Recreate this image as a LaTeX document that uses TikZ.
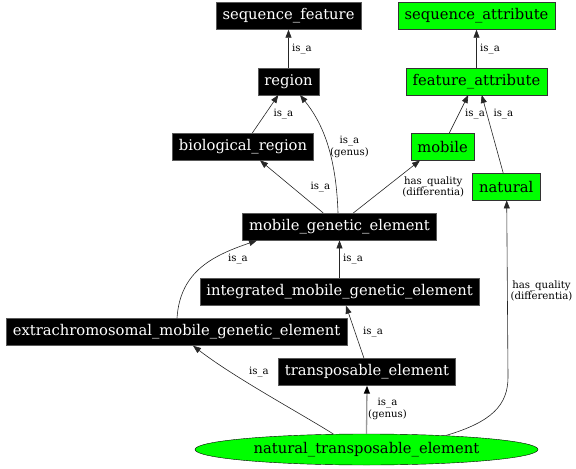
\documentclass[tikz,border=0pt]{standalone}
\usepackage{fontspec}
\setmainfont{DejaVu Serif}
\usepackage{xcolor}
\usetikzlibrary{arrows.meta,shapes.geometric}
\definecolor{nodegreen}{RGB}{0,255,0}

\begin{document}
\begin{tikzpicture}[x=1bp,y=-1bp,>={Triangle[length=8bp,width=6bp]},
    term/.style={draw=black!65,fill=black,text=white,inner xsep=6.5bp,inner ysep=0bp,
        minimum height=27bp,font=\fontsize{14.8}{17}\selectfont},
    attr/.style={term,fill=nodegreen,draw=black!80,text=black},
    lbl/.style={font=\fontsize{10.2}{11.5}\selectfont,align=center,inner sep=0pt},
    rel/.style={->,draw=black!85,line width=0.6bp}]
        \useasboundingbox (0,0) rectangle (576,469);
        \node[term] (seqfeat) at (288.5,16) {sequence\_feature};
        \node[attr] (seqattr) at (476.5,16) {sequence\_attribute};
        \node[term] (region) at (288.5,81.3) {region};
        \node[attr] (featattr) at (476.5,81.3) {feature\_attribute};
        \node[term] (bioreg) at (243,146.7) {biological\_region};
        \node[attr] (mobile) at (442.5,146.7) {mobile};
        \node[attr] (natural) at (506.2,186.7) {natural};
        \node[term] (mge) at (339.5,226.7) {mobile\_genetic\_element};
        \node[term] (imge) at (339.5,292) {integrated\_mobile\_genetic\_element};
        \node[term] (emge) at (176.5,332) {extrachromosomal\_mobile\_genetic\_element};
        \node[term] (te) at (367,372) {transposable\_element};
        \node[attr,ellipse,draw=black,minimum width=343bp,minimum height=31bp,inner sep=0pt]
            (nte) at (366.5,449.5) {natural\_transposable\_element};
        \node[lbl] (l1) at (302,49) {is\_a};
        \node[lbl] (l2) at (490,49) {is\_a};
        \node[lbl] (l3) at (283.3,114) {is\_a};
        \node[lbl] (l4) at (349.5,146.7) {is\_a\\(genus)};
        \node[lbl] (l5) at (320.3,186.7) {is\_a};
        \node[lbl] (l6) at (433.3,186.7) {has\_quality\\(differentia)};
        \node[lbl] (l7) at (475,114) {is\_a};
        \node[lbl] (l8) at (503.3,114) {is\_a};
        \node[lbl] (l9) at (541.5,291) {has\_quality\\(differentia)};
        \node[lbl] (l10) at (353,259) {is\_a};
        \node[lbl] (l11) at (238,259) {is\_a};
        \node[lbl] (l12) at (373,332) {is\_a};
        \node[lbl] (l13) at (387.5,409) {is\_a\\(genus)};
        \node[lbl] (l14) at (259,372) {is\_a};
        \draw[rel] (region.north) -- (seqfeat.south);
        \draw[rel] (featattr.north) -- (seqattr.south);
        \draw[rel] ([xshift=9.3bp]bioreg.north) -- ([xshift=-10.2bp]region.south);
        \draw[rel] ([xshift=-1.5bp]mge.north) .. controls (336,150) and (320,120) .. ([xshift=11.5bp]region.south);
        \draw[rel] ([xshift=-16.2bp]mge.north) -- ([xshift=17bp]bioreg.south);
        \draw[rel] ([xshift=13.8bp]mge.north) -- ([xshift=-22.5bp]mobile.south);
        \draw[rel] ([xshift=6.8bp]mobile.north) -- ([xshift=-8.2bp]featattr.south);
        \draw[rel] ([xshift=-3bp]natural.north) -- ([xshift=5.2bp]featattr.south);
        \draw[rel] (nte.10) .. controls (492,422) and (508,405) .. (508,377) -- ([xshift=0.5bp]natural.south);
        \draw[rel] (imge.north) -- (mge.south);
        \draw[rel] ([xshift=0.5bp]emge.north) .. controls (180,270) and (215,255) .. ([xshift=-82.5bp]mge.south);
        \draw[rel] ([xshift=-3bp]te.north) -- ([xshift=6.5bp]imge.south);
        \draw[->,draw=black!40,line width=1.3bp,>={Triangle[length=8bp,width=6bp,color=black]}] (nte.north) -- (te.south);
        \draw[rel] (nte.155) .. controls (300,413) and (235,378) .. ([xshift=16.5bp]emge.south);
\end{tikzpicture}
\end{document}
